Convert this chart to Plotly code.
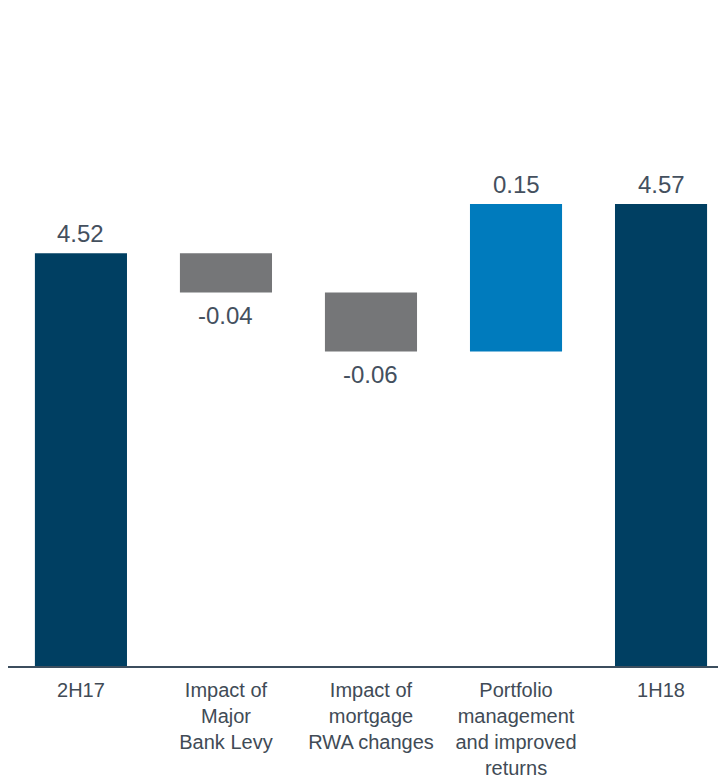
import plotly.graph_objects as go

categories = ["2H17", "Impact of<br>Major<br>Bank Levy", "Impact of<br>mortgage<br>RWA changes",
              "Portfolio<br>management<br>and improved<br>returns", "1H18"]
values = [4.52, -0.04, -0.06, 0.15, 4.57]
measures = ["total", "relative", "relative", "relative", "total"]
labels = ["4.52", "-0.04", "-0.06", "0.15", "4.57"]

NAVY = "#003f62"
GRAY = "#757678"
BLUE = "#007bbd"
TEXT = "#44505e"

bases, heights, colors = [], [], []
running = 0.0
for v, m in zip(values, measures):
    if m == "total":
        bases.append(0)
        heights.append(v)
        colors.append(NAVY)
        running = v
    else:
        bases.append(running)
        heights.append(v)
        colors.append(BLUE if v > 0 else GRAY)
        running += v

fig = go.Figure(go.Bar(
    x=categories, y=heights, base=bases,
    marker=dict(color=colors, line=dict(width=0)),
    width=0.635,
    hoverinfo="skip",
))

for cat, b, h, lab in zip(categories, bases, heights, labels):
    end = b + h
    if h >= 0:
        fig.add_annotation(x=cat, y=end, text=lab, showarrow=False,
                           yanchor="bottom", yshift=4,
                           font=dict(family="Liberation Sans, Arial", size=24, color=TEXT))
    else:
        fig.add_annotation(x=cat, y=end, text=lab, showarrow=False,
                           yanchor="top", yshift=-8,
                           font=dict(family="Liberation Sans, Arial", size=24, color=TEXT))

fig.update_layout(
    width=718, height=774,
    margin=dict(l=0, r=0, t=0, b=116),
    plot_bgcolor="white", paper_bgcolor="white",
    showlegend=False,
    bargap=0.365,
    font=dict(family="Liberation Sans, Arial", size=20, color="#414b56"),
)
fig.update_xaxes(
    range=[-0.503, 4.448], automargin=False,
    showline=True, linecolor="#3c4e5e", linewidth=2,
    ticks="", showgrid=False, ticklabelstandoff=5,
    tickfont=dict(family="Liberation Sans, Arial", size=20, color="#414b56"),
)
fig.update_yaxes(
    range=[4.1, 4.1 + 658 / 983], automargin=False,
    visible=False, showgrid=False, zeroline=False,
)

fig.write_html("out.html")
